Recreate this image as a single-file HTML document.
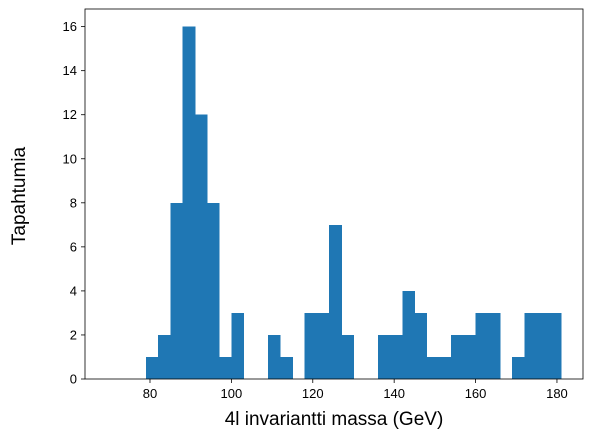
<!DOCTYPE html>
<html><head><meta charset="utf-8"><style>
body{margin:0;background:#fff;}
svg{display:block;font-family:"Liberation Sans","DejaVu Sans",sans-serif;}
</style></head><body>
<svg id="chart" width="592" height="438"></svg>
<script>
const binStarts=[70,73,76,79,82,85,88,91,94,97,100,103,106,109,112,115,118,121,124,127,130,133,136,139,142,145,148,151,154,157,160,163,166,169,172,175,178];
const counts=[0,0,0,1,2,8,16,12,8,1,3,0,0,2,1,0,3,3,7,2,0,0,2,2,4,3,1,1,2,2,3,3,0,1,3,3,3];
const binWidth=3;
const xTicks=[80,100,120,140,160,180];
const yTicks=[0,2,4,6,8,10,12,14,16];
const xLabel="4l invariantti massa (GeV)";
const yLabel="Tapahtumia";

const L=85,R=583,T=9,B=379;
const x0=64.03,x1=186.4,ymax=16.8;
const sx=v=>L+(v-x0)/(x1-x0)*(R-L);
const sy=v=>B-v/ymax*(B-T);
const NS="http://www.w3.org/2000/svg";
const svg=document.getElementById('chart');
function mk(tag,attrs,parent){const e=document.createElementNS(NS,tag);for(const k in attrs)e.setAttribute(k,attrs[k]);(parent||svg).appendChild(e);return e;}
const bars=mk('g',{'shape-rendering':'crispEdges'});


counts.forEach((c,i)=>{if(c<=0)return;
 const r=mk('rect',{x:sx(binStarts[i]),y:sy(c),width:sx(binStarts[i]+binWidth)-sx(binStarts[i])+0.5,height:sy(0)-sy(c),fill:'#1f77b4'},bars);
 
 
});
const frame=mk('rect',{x:L,y:T,width:R-L,height:B-T,fill:'none',stroke:'#000','stroke-width':0.8});


xTicks.forEach(t=>{const X=sx(t);
 mk('line',{x1:X,x2:X,y1:B,y2:B+4,stroke:'#000','stroke-width':0.8});
 const tx=mk('text',{x:X,y:B+19,'text-anchor':'middle','font-size':13});tx.textContent=t;
 
 
});
yTicks.forEach(t=>{const Y=sy(t);
 mk('line',{x1:L-4,x2:L,y1:Y,y2:Y,stroke:'#000','stroke-width':0.8});
 const tx=mk('text',{x:L-8,y:Y+4.5,'text-anchor':'end','font-size':13});tx.textContent=t;
 
 
});
const xl=mk('text',{x:(L+R)/2,y:425,'text-anchor':'middle','font-size':19});xl.textContent=xLabel;


const yl=mk('text',{x:0,y:0,'text-anchor':'middle','font-size':19,transform:'translate(25,'+((T+B)/2+2)+') rotate(-90)'});yl.textContent=yLabel;


</script>
</body></html>
